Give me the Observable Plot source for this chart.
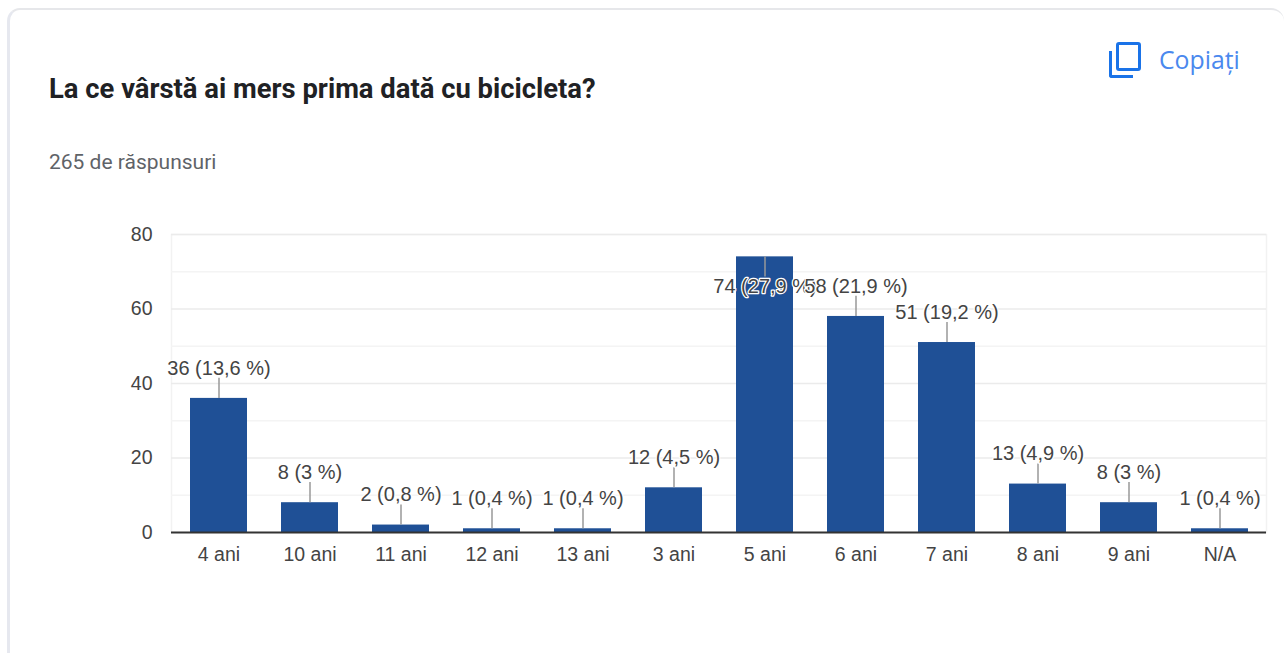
<!DOCTYPE html>
<html>
<head>
<meta charset="utf-8">
<script src="https://cdn.jsdelivr.net/npm/d3@7"></script>
<script src="https://cdn.jsdelivr.net/npm/@observablehq/plot@0.6"></script>
<style>
html,body{margin:0;padding:0;width:1284px;height:653px;overflow:hidden;background:#fff;}
#inner{position:absolute;left:7px;top:8px;width:1277px;height:680px;box-sizing:border-box;background:#fff;border-left:3px solid #e6e8ef;border-top:2px solid #e6e7ea;border-radius:13px 13px 0 0;}
#title{position:absolute;left:49px;top:73px;font:700 27.4px Roboto,sans-serif;color:#202124;white-space:nowrap;}
#sub{position:absolute;left:49px;top:150px;font:400 21px Roboto,sans-serif;color:#5f6368;white-space:nowrap;}
#copy{position:absolute;left:1159px;top:42px;font:500 24.8px "Open Sans",sans-serif;color:#4a88ee;white-space:nowrap;}
#ic1{position:absolute;left:1116px;top:42px;width:25px;height:29px;box-sizing:border-box;border:3px solid #1a73e8;border-radius:3px;}
#ic2{position:absolute;left:1109px;top:51px;width:24px;height:27px;box-sizing:border-box;border-left:3px solid #1a73e8;border-bottom:3px solid #1a73e8;border-bottom-left-radius:3px;}
#chart{position:absolute;left:0;top:210px;}
</style>
</head>
<body>
<div id="inner"></div>
<div id="title">La ce vârstă ai mers prima dată cu bicicleta?</div>
<div id="sub">265 de răspunsuri</div>
<div id="ic1"></div><div id="ic2"></div>
<div id="copy">Copiați</div>
<div id="chart"></div>
<script>
const categories = ["4 ani","10 ani","11 ani","12 ani","13 ani","3 ani","5 ani","6 ani","7 ani","8 ani","9 ani","N/A"];
const counts = [36,8,2,1,1,12,74,58,51,13,8,1];
const percents = ["13,6","3","0,8","0,4","0,4","4,5","27,9","21,9","19,2","4,9","3","0,4"];
const minorTicks = [10,30,50,70];
const majorTicks = [20,40,60,80];
const yTicks = [0,20,40,60,80];

const rows = categories.map((c,i)=>({c, v:counts[i], label:`${counts[i]} (${percents[i]} %)`}));
const above = rows.filter(d=>d.v<74);
const inside = rows.filter(d=>d.v>=74);
const leader = 5.4;
const font = "Liberation Sans, Arial, sans-serif";

const chart = Plot.plot({
  width:1284, height:380,
  marginTop:24, marginBottom:58, marginLeft:171, marginRight:18,
  style:{background:"transparent",fontFamily:font,fontSize:"19.5px",color:"#444"},
  x:{domain:categories,paddingInner:0.375,paddingOuter:0.1875,align:0.5,label:null,tickSize:0,tickPadding:15},
  y:{domain:[0,80],label:null,ticks:yTicks,tickSize:0,tickPadding:19},
  marks:[
    Plot.frame({stroke:"#f2f2f2",strokeWidth:1.5}),
    Plot.ruleY(minorTicks,{stroke:"#f4f4f4",strokeWidth:1.5}),
    Plot.ruleY(majorTicks,{stroke:"#ebebeb",strokeWidth:1.5}),
    Plot.barY(rows,{x:"c",y:"v",fill:"#1f5096"}),
    Plot.ruleY([0],{stroke:"#333",strokeWidth:2}),
    Plot.ruleX(above,{x:"c",y1:"v",y2:d=>d.v+leader,stroke:"#999",strokeWidth:1.5}),
    Plot.ruleX(inside,{x:"c",y1:"v",y2:d=>d.v-leader,stroke:"#999",strokeWidth:1.5}),
    Plot.text(inside,{x:"c",y:"v",text:"label",dy:30,fill:"#444",fontSize:20,stroke:"#fff",strokeWidth:2.5,paintOrder:"stroke"}),
    Plot.text(above,{x:"c",y:"v",text:"label",dy:-30,fill:"#444",fontSize:20,stroke:"#fff",strokeWidth:2.5,paintOrder:"stroke"})
  ]
});
document.getElementById("chart").appendChild(chart);
</script>
</body>
</html>
